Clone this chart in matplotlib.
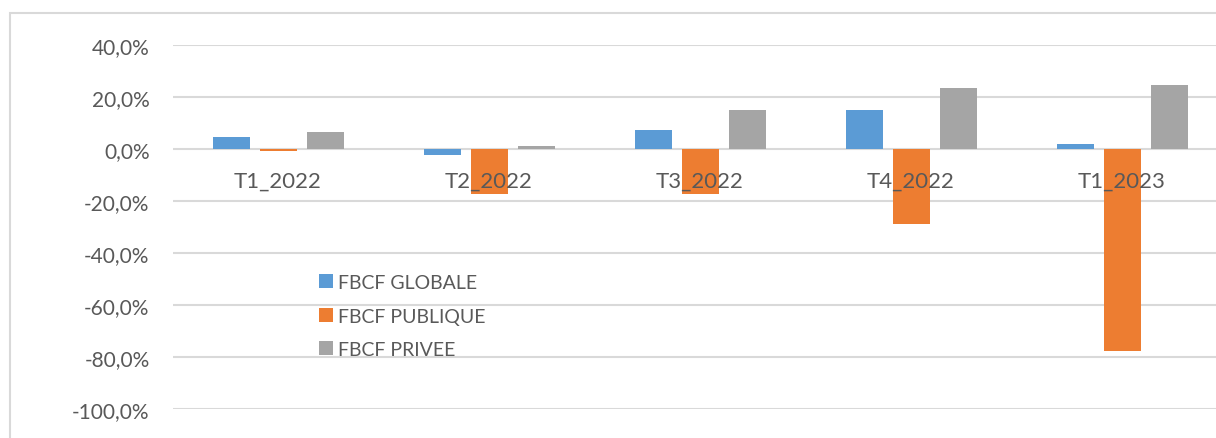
import matplotlib
matplotlib.use("Agg")
import matplotlib.pyplot as plt
from matplotlib.patches import Rectangle
import numpy as np

plt.rcParams['font.family'] = ['Lato', 'DejaVu Sans']

categories = ["T1_2022", "T2_2022", "T3_2022", "T4_2022", "T1_2023"]
series_names = ["FBCF GLOBALE", "FBCF PUBLIQUE", "FBCF PRIVEE"]
globale = [4.6, -2.2, 7.3, 15.0, 1.9]
publique = [-0.9, -17.3, -17.4, -28.7, -77.6]
privee = [6.4, 1.2, 14.9, 23.5, 24.7]
y_ticks = [-100, -80, -60, -40, -20, 0, 20, 40]

colors = ["#5B9BD5", "#ED7D31", "#A5A5A5"]
text_color = "#595959"
grid_color = "#D9D9D9"

W, H = 1216, 439
fig = plt.figure(figsize=(W / 100, H / 100), dpi=100)
ax = fig.add_axes([172.5 / W, (H - 410) / H, 1055 / W, 364 / H])

x = np.arange(len(categories))
bw = 37 / 211
off = 47 / 211
handles = []
for k, (vals, name) in enumerate(zip([globale, publique, privee], series_names)):
    b = ax.bar(x + (k - 1) * off, vals, width=bw, color=colors[k], label=name, zorder=3)
    handles.append(b)

ax.set_xlim(-0.5, len(categories) - 0.5)
ax.set_ylim(-100, 40)
ax.set_yticks(y_ticks)
ax.set_yticklabels([f"{v:.1f}%".replace(".", ",") for v in y_ticks])
ax.tick_params(axis='y', length=0, pad=16.5, labelsize=15, labelcolor=text_color)
ax.set_xticks([])
for s in ax.spines.values():
    s.set_visible(False)
ax.yaxis.grid(True, color=grid_color, linewidth=1.5, zorder=0)
ax.set_axisbelow(True)

for i, c in enumerate(categories):
    ax.annotate(c, xy=(i, 0), xytext=(0, -27), textcoords='offset points',
                ha='center', va='baseline', fontsize=16, color=text_color)

leg = fig.legend(handles=handles, labels=series_names, loc='upper left',
                 bbox_to_anchor=(319 / W, 1 - 275 / H), bbox_transform=fig.transFigure,
                 frameon=False, fontsize=14, handlelength=0.72, handleheight=0.72,
                 handletextpad=0.25, labelspacing=0.85, borderpad=0, borderaxespad=0)
for t in leg.get_texts():
    t.set_color(text_color)

fig.add_artist(Rectangle((10 / W, -0.1), 1.2, (H - 14) / H + 0.1, transform=fig.transFigure,
                         fill=False, edgecolor=grid_color, linewidth=1.5))

fig.savefig("out.png", dpi=100, facecolor="white")
